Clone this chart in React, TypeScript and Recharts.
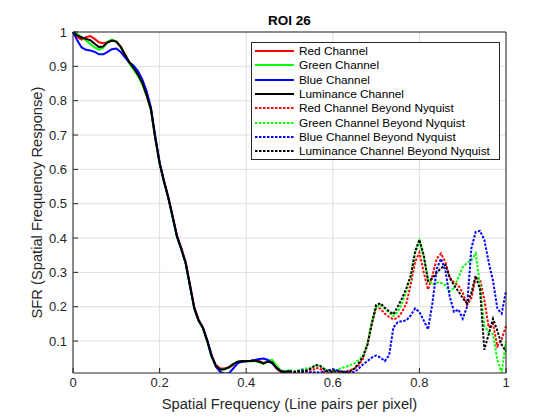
import { CartesianGrid, Legend, Line, LineChart, XAxis, YAxis } from "recharts";

// sampling grid, cycles per pixel
const freq = [
  0, 0.01, 0.02, 0.03, 0.04, 0.05, 0.06, 0.07, 0.08, 0.09,
  0.1, 0.11, 0.12, 0.13, 0.14, 0.15, 0.16, 0.17, 0.18, 0.19,
  0.2, 0.21, 0.22, 0.23, 0.24, 0.25, 0.26, 0.27, 0.28, 0.29,
  0.3, 0.31, 0.32, 0.33, 0.34, 0.35, 0.36, 0.37, 0.38, 0.39,
  0.4, 0.41, 0.42, 0.43, 0.44, 0.45, 0.46, 0.47, 0.48, 0.49,
  0.5, 0.51, 0.52, 0.53, 0.54, 0.55, 0.56, 0.57, 0.58, 0.59,
  0.6, 0.61, 0.62, 0.63, 0.64, 0.65, 0.66, 0.67, 0.68, 0.69,
  0.7, 0.71, 0.72, 0.73, 0.74, 0.75, 0.76, 0.77, 0.78, 0.79,
  0.8, 0.81, 0.82, 0.83, 0.84, 0.85, 0.86, 0.87, 0.88, 0.89,
  0.9, 0.91, 0.92, 0.93, 0.94, 0.95, 0.96, 0.97, 0.98, 0.99,
  1,
];

// 0 .. 0.5 (up to Nyquist)
const redLow = [
  1.0, 0.985, 0.978, 0.985, 0.988, 0.98, 0.97, 0.967, 0.97, 0.975,
  0.972, 0.958, 0.935, 0.912, 0.893, 0.874, 0.85, 0.815, 0.772, 0.692,
  0.62, 0.568, 0.52, 0.465, 0.408, 0.372, 0.332, 0.266, 0.2, 0.163,
  0.14, 0.102, 0.058, 0.03, 0.02, 0.02, 0.022, 0.03, 0.037, 0.04,
  0.041, 0.042, 0.044, 0.042, 0.036, 0.04, 0.037, 0.02, 0.01, 0.008,
  0.01,
];
const greenLow = [
  1.0, 0.994, 0.985, 0.975, 0.965, 0.955, 0.948, 0.955, 0.972, 0.978,
  0.973, 0.956, 0.932, 0.908, 0.89, 0.872, 0.848, 0.815, 0.774, 0.69,
  0.616, 0.563, 0.516, 0.46, 0.404, 0.367, 0.327, 0.261, 0.195, 0.159,
  0.137, 0.099, 0.054, 0.027, 0.016, 0.017, 0.023, 0.032, 0.04, 0.042,
  0.041, 0.041, 0.042, 0.038, 0.033, 0.042, 0.045, 0.028, 0.014, 0.012,
  0.015,
];
const blueLow = [
  1.0, 0.975, 0.955, 0.948, 0.946, 0.942, 0.935, 0.935, 0.942, 0.95,
  0.952, 0.942, 0.926, 0.912, 0.902, 0.886, 0.862, 0.828, 0.78, 0.697,
  0.62, 0.566, 0.518, 0.463, 0.405, 0.368, 0.328, 0.262, 0.196, 0.16,
  0.14, 0.103, 0.06, 0.025, 0.01, 0.005, 0.006, 0.02, 0.035, 0.04,
  0.042, 0.043, 0.045, 0.048, 0.049, 0.045, 0.035, 0.022, 0.012, 0.01,
  0.012,
];
const lumLow = [
  1.0, 0.99, 0.984, 0.98, 0.976, 0.966, 0.956, 0.958, 0.97, 0.975,
  0.972, 0.957, 0.934, 0.912, 0.895, 0.876, 0.852, 0.816, 0.775, 0.69,
  0.618, 0.565, 0.518, 0.462, 0.405, 0.368, 0.328, 0.262, 0.196, 0.16,
  0.138, 0.1, 0.055, 0.028, 0.017, 0.018, 0.024, 0.033, 0.04, 0.042,
  0.041, 0.042, 0.043, 0.04, 0.035, 0.04, 0.038, 0.022, 0.012, 0.01,
  0.012,
];

// 0.5 .. 1 (beyond Nyquist)
const redHigh = [
  0.01, 0.008, 0.01, 0.012, 0.01, 0.012, 0.022, 0.02, 0.01, 0.008,
  0.01, 0.012, 0.01, 0.012, 0.015, 0.02, 0.03, 0.05, 0.09, 0.15,
  0.195, 0.195, 0.18, 0.17, 0.163, 0.168, 0.185, 0.21, 0.265, 0.33,
  0.358, 0.3, 0.25, 0.29, 0.34, 0.355, 0.33, 0.285, 0.27, 0.262,
  0.24, 0.205, 0.225, 0.285, 0.28, 0.22, 0.14, 0.15, 0.085, 0.105,
  0.144,
];
const greenHigh = [
  0.015, 0.012, 0.015, 0.018, 0.02, 0.022, 0.03, 0.028, 0.02, 0.015,
  0.012, 0.015, 0.022, 0.025, 0.03, 0.035, 0.045, 0.058, 0.092, 0.155,
  0.2, 0.205, 0.195, 0.182, 0.173, 0.185, 0.21, 0.245, 0.29, 0.355,
  0.392, 0.345, 0.28, 0.265, 0.27, 0.27, 0.262, 0.245, 0.255, 0.285,
  0.315, 0.328, 0.335, 0.355, 0.26, 0.145, 0.125, 0.12, 0.045, 0.007,
  0.1,
];
const blueHigh = [
  0.012, 0.01, 0.012, 0.015, 0.012, 0.008, 0.01, 0.008, 0.012, 0.015,
  0.018, 0.015, 0.012, 0.01, 0.008, 0.01, 0.02, 0.032, 0.042, 0.052,
  0.058, 0.052, 0.042, 0.058, 0.14, 0.155, 0.158, 0.16, 0.175, 0.195,
  0.185, 0.16, 0.134, 0.21, 0.31, 0.34, 0.305, 0.23, 0.185, 0.192,
  0.165, 0.2, 0.37, 0.418, 0.421, 0.395, 0.33, 0.275, 0.195, 0.18,
  0.246,
];
const lumHigh = [
  0.012, 0.01, 0.012, 0.01, 0.015, 0.02, 0.03, 0.028, 0.018, 0.01,
  0.012, 0.012, 0.01, 0.01, 0.012, 0.02, 0.035, 0.056, 0.09, 0.15,
  0.205, 0.21, 0.197, 0.187, 0.178, 0.2, 0.225, 0.255, 0.29, 0.36,
  0.395, 0.35, 0.275, 0.282, 0.3, 0.312, 0.322, 0.285, 0.262, 0.245,
  0.225, 0.21, 0.24, 0.29, 0.25, 0.075, 0.12, 0.165, 0.13, 0.09,
  0.07,
];

const X_TICKS = [0, 0.2, 0.4, 0.6, 0.8, 1];
const Y_TICKS = [0.1, 0.2, 0.3, 0.4, 0.5, 0.6, 0.7, 0.8, 0.9, 1];

const NYQ = 50; // index of 0.5 in freq

const AXIS = "#262626";
const FONT = '"Liberation Sans", Arial, sans-serif';

const series = [
  { key: "red", name: "Red Channel", color: "#ff0000", dotted: false },
  { key: "green", name: "Green Channel", color: "#00ff00", dotted: false },
  { key: "blue", name: "Blue Channel", color: "#0000ff", dotted: false },
  { key: "lum", name: "Luminance Channel", color: "#000000", dotted: false },
  { key: "redHi", name: "Red Channel Beyond Nyquist", color: "#ff0000", dotted: true },
  { key: "greenHi", name: "Green Channel Beyond Nyquist", color: "#00ff00", dotted: true },
  { key: "blueHi", name: "Blue Channel Beyond Nyquist", color: "#0000ff", dotted: true },
  { key: "lumHi", name: "Luminance Channel Beyond Nyquist", color: "#000000", dotted: true },
];

const rows = freq.map((f, i) => ({
  f,
  red: i <= NYQ ? redLow[i] : null,
  green: i <= NYQ ? greenLow[i] : null,
  blue: i <= NYQ ? blueLow[i] : null,
  lum: i <= NYQ ? lumLow[i] : null,
  redHi: i >= NYQ ? redHigh[i - NYQ] : null,
  greenHi: i >= NYQ ? greenHigh[i - NYQ] : null,
  blueHi: i >= NYQ ? blueHigh[i - NYQ] : null,
  lumHi: i >= NYQ ? lumHigh[i - NYQ] : null,
}));

const DOTS = "2.5 1.5";

function LegendBox() {
  return (
    <div
      style={{
        boxSizing: "border-box",
        width: 249,
        height: 118,
        border: `1px solid ${AXIS}`,
        background: "#fff",
        padding: "1px 0 0 2px",
        fontFamily: FONT,
        fontSize: 11.8,
        color: "#000",
        textAlign: "left",
      }}
    >
      {series.map((s) => (
        <div key={s.key} style={{ display: "flex", alignItems: "center", height: 14.3 }}>
          <svg width={40} height={6} style={{ display: "block" }}>
            <line
              x1={1}
              x2={40}
              y1={3}
              y2={3}
              stroke={s.color}
              strokeWidth={2}
              strokeDasharray={s.dotted ? DOTS : undefined}
            />
          </svg>
          <span style={{ marginLeft: 5, whiteSpace: "nowrap" }}>{s.name}</span>
        </div>
      ))}
    </div>
  );
}

export default function App() {
  return (
    <div style={{ width: 560, height: 420, background: "#fff", fontFamily: FONT }}>
      <style>{"body{margin:0}"}</style>
      <LineChart
        width={560}
        height={420}
        data={rows}
        margin={{ top: 31, right: 53, bottom: 0, left: 0 }}
      >
        <CartesianGrid stroke="#dfdfdf" horizontalValues={Y_TICKS} verticalValues={X_TICKS} />
        <XAxis
          dataKey="f"
          type="number"
          domain={[0, 1]}
          ticks={X_TICKS}
          height={47}
          tickSize={-5}
          tickMargin={10}
          axisLine={{ stroke: AXIS }}
          tickLine={{ stroke: AXIS }}
          tick={{ fill: AXIS, fontSize: 13 }}
          label={{
            value: "Spatial Frequency (Line pairs per pixel)",
            position: "insideBottom",
            offset: 11,
            fill: AXIS,
            fontSize: 14.7,
          }}
        />
        <XAxis
          xAxisId="top"
          orientation="top"
          dataKey="f"
          type="number"
          domain={[0, 1]}
          ticks={X_TICKS}
          height={1}
          tickSize={-5}
          tick={false}
          axisLine={{ stroke: AXIS }}
          tickLine={{ stroke: AXIS }}
          label={{
            value: "ROI 26",
            position: "top",
            offset: 6,
            fill: "#000",
            fontSize: 13.5,
            fontWeight: "bold",
          }}
        />
        <YAxis
          type="number"
          domain={[0.007, 1]}
          allowDataOverflow
          ticks={Y_TICKS}
          width={73}
          tickSize={-5}
          tickMargin={11}
          axisLine={{ stroke: AXIS }}
          tickLine={{ stroke: AXIS }}
          tick={{ fill: AXIS, fontSize: 13 }}
          label={{
            value: "SFR (Spatial Frequency Response)",
            angle: -90,
            position: "center",
            fill: AXIS,
            fontSize: 14.7,
          }}
        />
        <YAxis
          yAxisId="right"
          orientation="right"
          type="number"
          domain={[0.007, 1]}
          allowDataOverflow
          ticks={Y_TICKS}
          width={1}
          tickSize={-5}
          tick={false}
          axisLine={{ stroke: AXIS }}
          tickLine={{ stroke: AXIS }}
        />
        <Legend
          layout="horizontal"
          align="center"
          verticalAlign="middle"
          content={() => <LegendBox />}
          wrapperStyle={{ left: 251, top: 42, width: 249, height: 118 }}
        />
        {series.map((s) => (
          <Line
            key={s.key}
            dataKey={s.key}
            name={s.name}
            type="linear"
            stroke={s.color}
            strokeWidth={2}
            strokeDasharray={s.dotted ? DOTS : undefined}
            dot={false}
            activeDot={false}
            connectNulls={false}
            isAnimationActive={false}
          />
        ))}
      </LineChart>
    </div>
  );
}
